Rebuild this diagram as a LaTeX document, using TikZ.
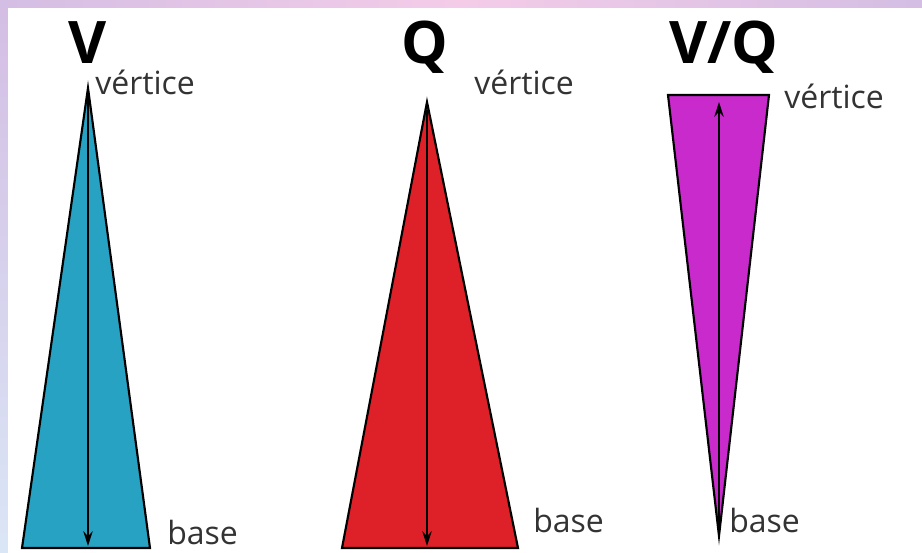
\documentclass[tikz,border=0pt]{standalone}
\usepackage{fontspec}
\setmainfont{Open Sans}
\usetikzlibrary{arrows.meta,positioning}

\definecolor{coneblue}{RGB}{40,162,194}
\definecolor{conered}{RGB}{222,32,40}
\definecolor{conemag}{RGB}{200,42,204}
\definecolor{lavender}{RGB}{212,190,228}
\definecolor{pinkish}{RGB}{244,204,232}
\definecolor{paleblue}{RGB}{218,230,246}

\begin{document}
\begin{tikzpicture}[x=0.75pt,y=-0.75pt,>={Stealth[length=11pt,width=7pt]},
  cone/.style={draw=black,line width=1.6pt,line join=miter},
  axis/.style={->,line width=1.4pt},
  title/.style={font=\bfseries\fontsize{44}{44}\selectfont,inner sep=0pt,anchor=base},
  tag/.style={font=\fontsize{24}{24}\selectfont,text=black!80,inner sep=0pt,anchor=west}]
  \useasboundingbox (0,0) rectangle (922,553);
  % frame
  \shade[left color=lavender,right color=lavender,middle color=pinkish] (0,0) rectangle (922,8);
  \shade[top color=lavender,bottom color=paleblue] (0,8) rectangle (8,553);
  \fill[white] (8,8) rectangle (922,553);

  % V
  \node[title] (tv) at (88,63) {V};
  \fill[coneblue,cone] (88,88) -- (150,548) -- (22,548) -- cycle;
  \coordinate (vtop) at (88,96);
  \coordinate (vbot) at (88,546);
  \draw[axis] (vtop) -- (vbot);
  \node[tag] (vv) at (95,82) {vértice};
  \node[tag] (vb) at (167,532) {base};

  % Q
  \node[title] (tq) at (425,63) {Q};
  \fill[conered,cone] (427,102) -- (518,548) -- (342,548) -- cycle;
  \coordinate (qtop) at (427,110);
  \coordinate (qbot) at (427,546);
  \draw[axis] (qtop) -- (qbot);
  \node[tag] (qv) at (474,82) {vértice};
  \node[tag] (qb) at (533,520) {base};

  % V/Q
  \node[title] (tvq) at (724,63) {V/Q};
  \fill[conemag,cone] (668,95) -- (769,95) -- (719,536) -- cycle;
  \coordinate (mtop) at (719,102);
  \coordinate (mbot) at (719,530);
  \draw[axis] (mbot) -- (mtop);
  \node[tag] (mv) at (784,96) {vértice};
  \node[tag] (mb) at (729,520) {base};
\end{tikzpicture}
\end{document}
